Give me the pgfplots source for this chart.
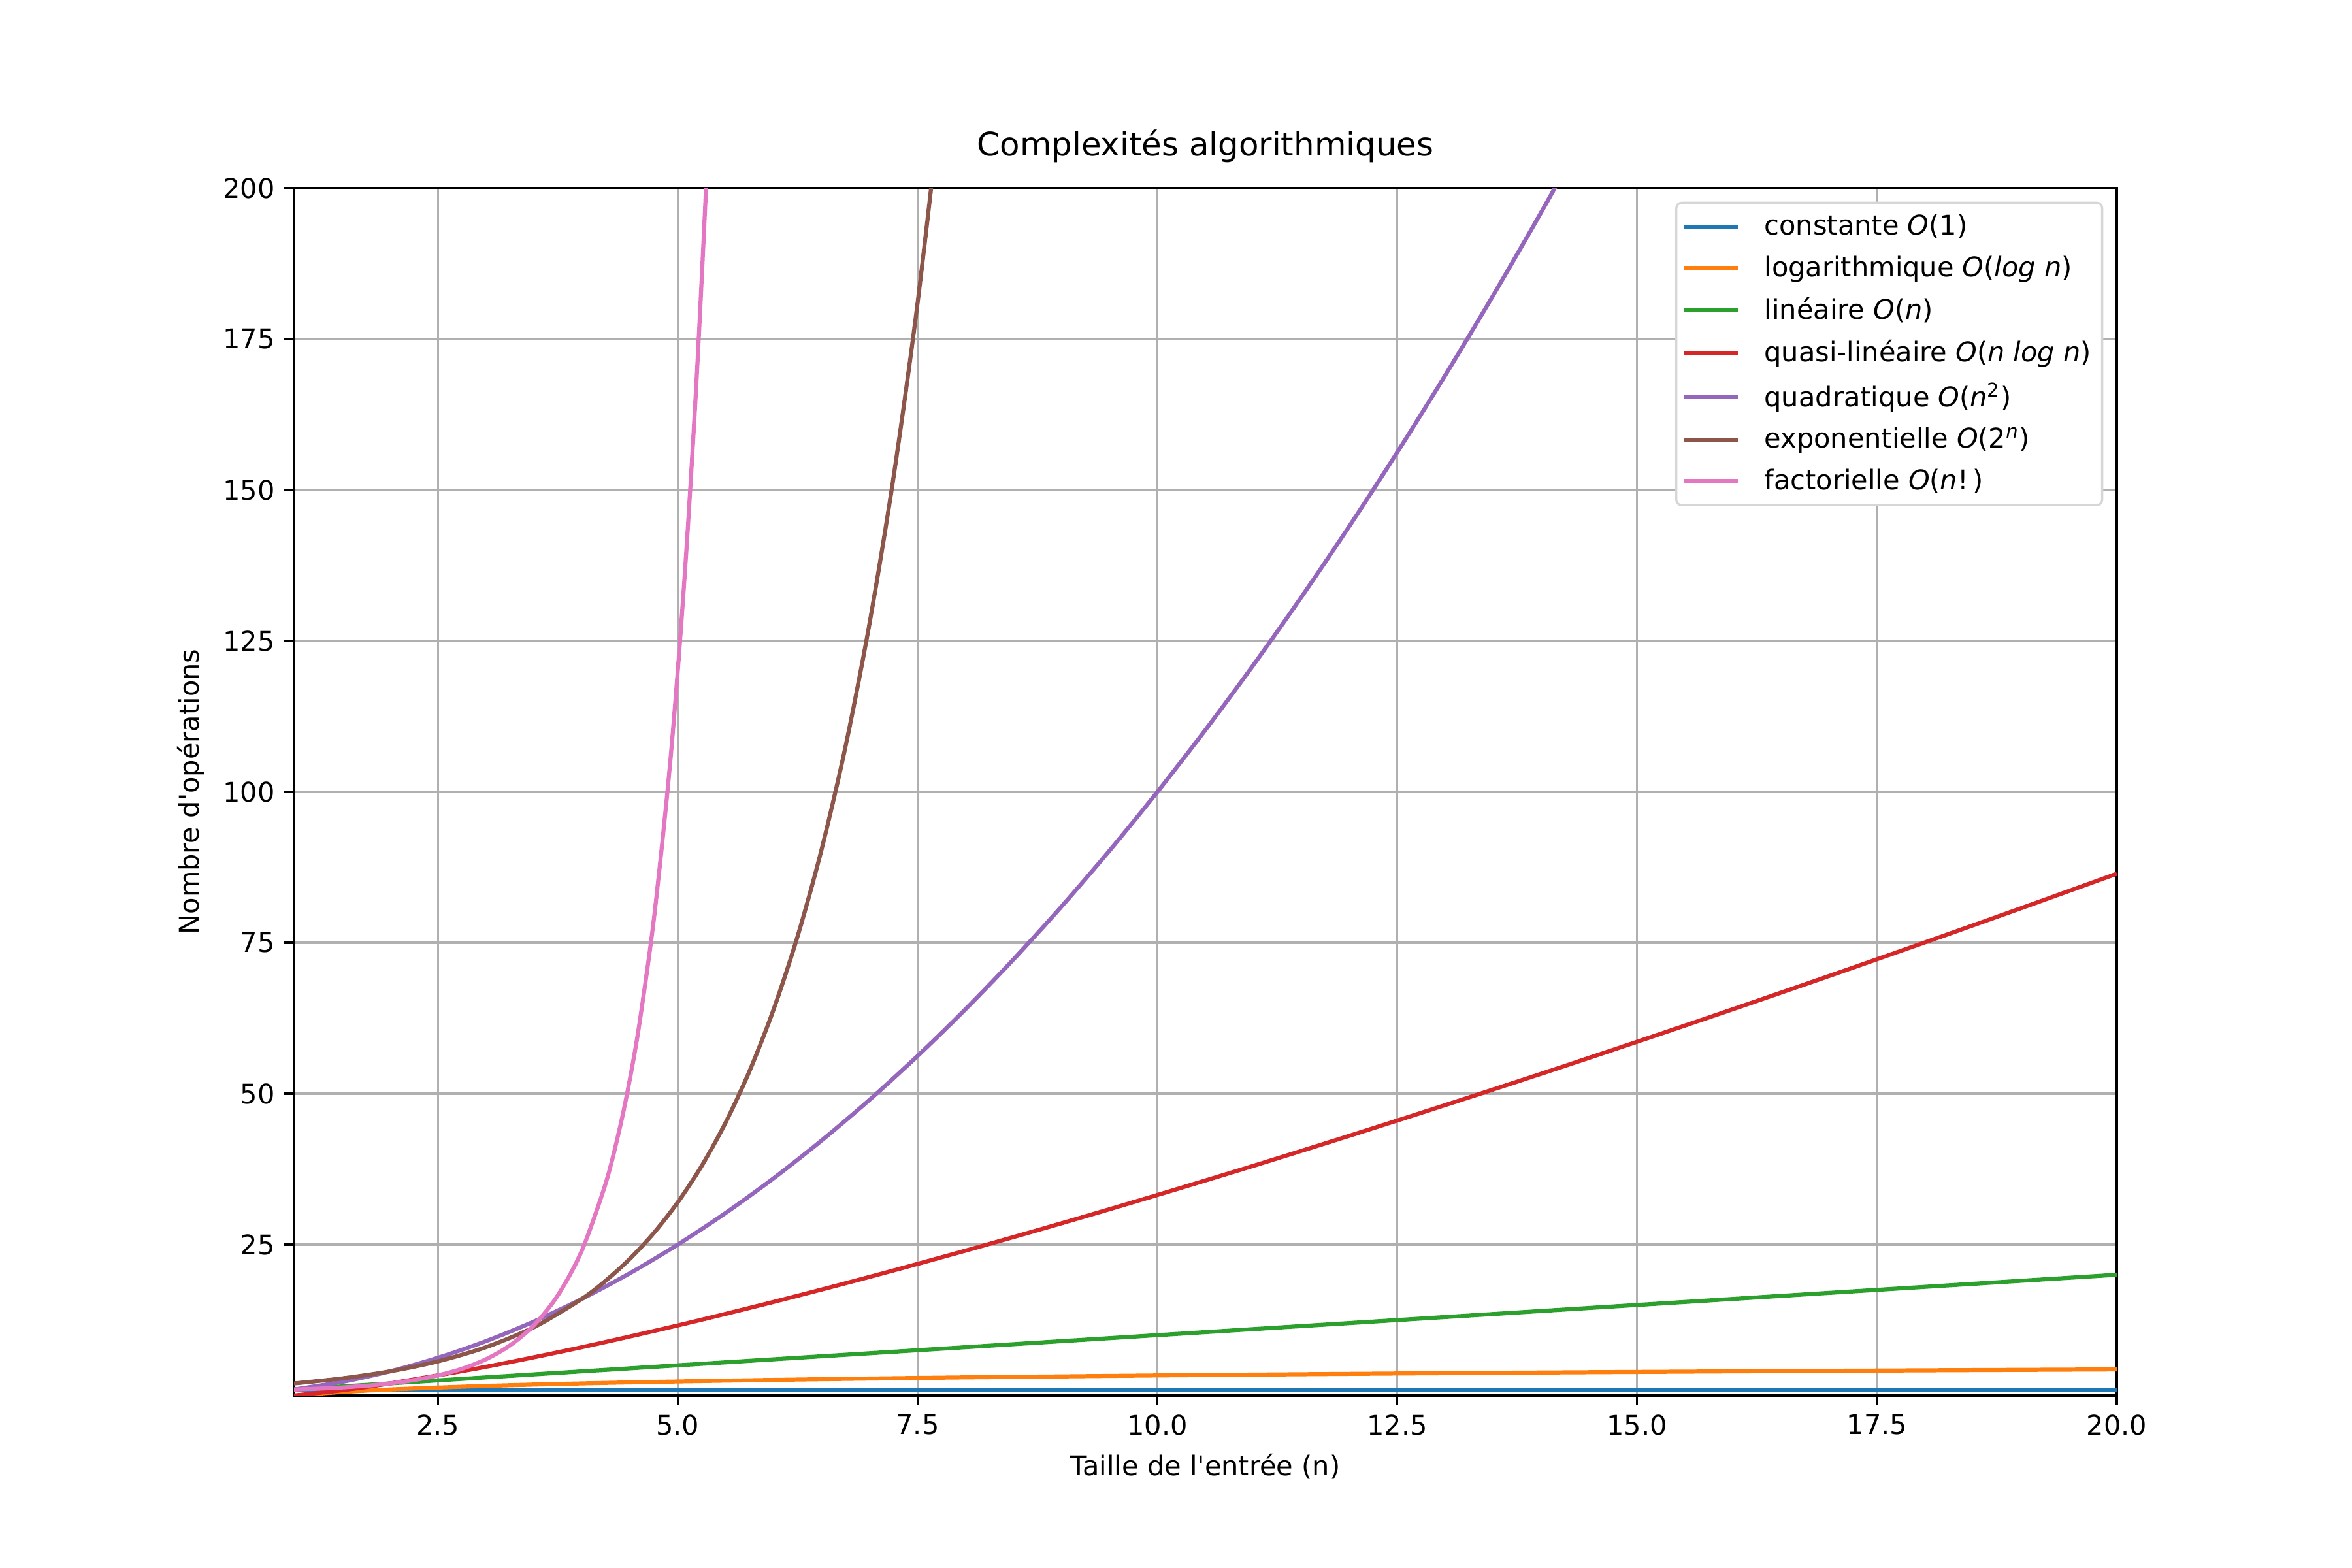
\documentclass[border=0pt]{standalone}
\usepackage{fontspec}
\setmainfont{DejaVu Sans}
\usepackage{pgfplots}
\pgfplotsset{compat=1.18}

\definecolor{c0}{HTML}{1F77B4}
\definecolor{c1}{HTML}{FF7F0E}
\definecolor{c2}{HTML}{2CA02C}
\definecolor{c3}{HTML}{D62728}
\definecolor{c4}{HTML}{9467BD}
\definecolor{c5}{HTML}{8C564B}
\definecolor{c6}{HTML}{E377C2}
\definecolor{gridgray}{HTML}{B0B0B0}
\definecolor{legframe}{HTML}{D6D6D6}

\newcommand{\mi}[1]{\textit{#1}}

\begin{document}
\begin{tikzpicture}
\begin{axis}[
    width=9.3in, height=6.16in, scale only axis,
    xmin=1, xmax=20, ymin=0, ymax=200,
    xtick={2.5,5,7.5,10,12.5,15,17.5,20},
    ytick={25,50,75,100,125,150,175,200},
    xticklabel style={/pgf/number format/.cd, fixed, fixed zerofill, precision=1},
    /pgf/number format/assume math mode=true,
    tick label style={font=\fontsize{10}{12}\selectfont},
    label style={font=\fontsize{10}{12}\selectfont},
    title style={font=\fontsize{12}{14.4}\selectfont, anchor=base, yshift=6pt},
    title={Complexités algorithmiques},
    xlabel={Taille de l\textquotesingle entrée (n)},
    ylabel={Nombre d\textquotesingle opérations},
    tick align=outside, tick pos=left,
    major tick length=3.5pt,
    every tick/.style={black, line width=0.8pt},
    axis line style={line width=0.8pt},
    grid=major,
    major grid style={gridgray, line width=0.8pt},
    legend style={at={(1,1)}, xshift=-5pt, yshift=-5pt, anchor=north east,
        draw=legframe, line width=0.8pt, rounded corners=2pt, fill=white,
        font=\fontsize{10}{12}\selectfont, inner xsep=2pt, inner ysep=2.3pt,
        row sep=2.2pt},
    legend cell align=left,
    legend image code/.code={\draw[#1] (0pt,0pt) -- (20pt,0pt); \path (27pt,0pt);},
    every axis plot/.append style={line width=1.5pt},
]

\coordinate (bl) at (rel axis cs:0,0);
\coordinate (tr) at (rel axis cs:1,1);

% constante
\addplot[c0] coordinates {(1,1) (20,1)};
% logarithmique
\addplot[c1, smooth] coordinates {
 (1,0) (1.5,0.585) (2,1) (3,1.585) (4,2) (5,2.322) (6,2.585) (7,2.807) (8,3)
 (10,3.322) (12,3.585) (14,3.807) (16,4) (18,4.170) (20,4.322)
};
% lineaire
\addplot[c2] coordinates {(1,1) (20,20)};
% quasi-lineaire
\addplot[c3, smooth] coordinates {
 (1,0) (1.5,0.877) (2,2) (3,4.755) (4,8) (5,11.61) (6,15.51) (7,19.65) (8,24)
 (9,28.53) (10,33.22) (11,38.05) (12,43.02) (13,48.11) (14,53.30) (15,58.60)
 (16,64) (17,69.49) (18,75.06) (19,80.71) (20,86.44)
};
% quadratique
\addplot[c4, smooth] coordinates {
 (1,1) (1.5,2.25) (2,4) (2.5,6.25) (3,9) (3.5,12.25) (4,16) (4.5,20.25) (5,25)
 (5.5,30.25) (6,36) (6.5,42.25) (7,49) (7.5,56.25) (8,64) (8.5,72.25) (9,81)
 (9.5,90.25) (10,100) (10.5,110.25) (11,121) (11.5,132.25) (12,144)
 (12.5,156.25) (13,169) (13.5,182.25) (14,196) (14.5,210.25)
};
% exponentielle
\addplot[c5, smooth] coordinates {
 (1,2) (1.5,2.828) (2,4) (2.5,5.657) (3,8) (3.5,11.31) (4,16) (4.25,19.03)
 (4.5,22.63) (4.75,26.91) (5,32) (5.25,38.05) (5.5,45.25) (5.75,53.82) (6,64)
 (6.25,76.11) (6.5,90.51) (6.75,107.6) (7,128) (7.25,152.2) (7.5,181.0)
 (7.75,215.3)
};
% factorielle
\addplot[c6, smooth] coordinates {
 (1,1) (1.25,1.133) (1.5,1.329) (1.75,1.608) (2,2) (2.25,2.549) (2.5,3.323)
 (2.75,4.423) (3,6) (3.25,8.285) (3.5,11.63) (3.75,16.59) (4,24) (4.25,35.21)
 (4.4,44.60) (4.5,52.34) (4.6,61.55) (4.75,78.78) (4.9,101.27) (5,120)
 (5.1,142.46) (5.2,169.4) (5.3,201.8) (5.4,238.5)
};

\legend{constante {\itshape O}(1),
        logarithmique {\itshape O}(\mi{log n}),
        linéaire {\itshape O}(\mi{n}),
        quasi-linéaire {\itshape O}(\mi{n log n}),
        quadratique {\itshape O}(\mi{n}\textsuperscript{2}),
        exponentielle {\itshape O}(2\textsuperscript{\mi{n}}),
        factorielle {\itshape O}(\mi{n}!\,)}
\end{axis}
\path ([shift={(-1.5in,-0.88in)}]bl) rectangle ([shift={(1.2in,0.96in)}]tr);
\end{tikzpicture}
\end{document}
